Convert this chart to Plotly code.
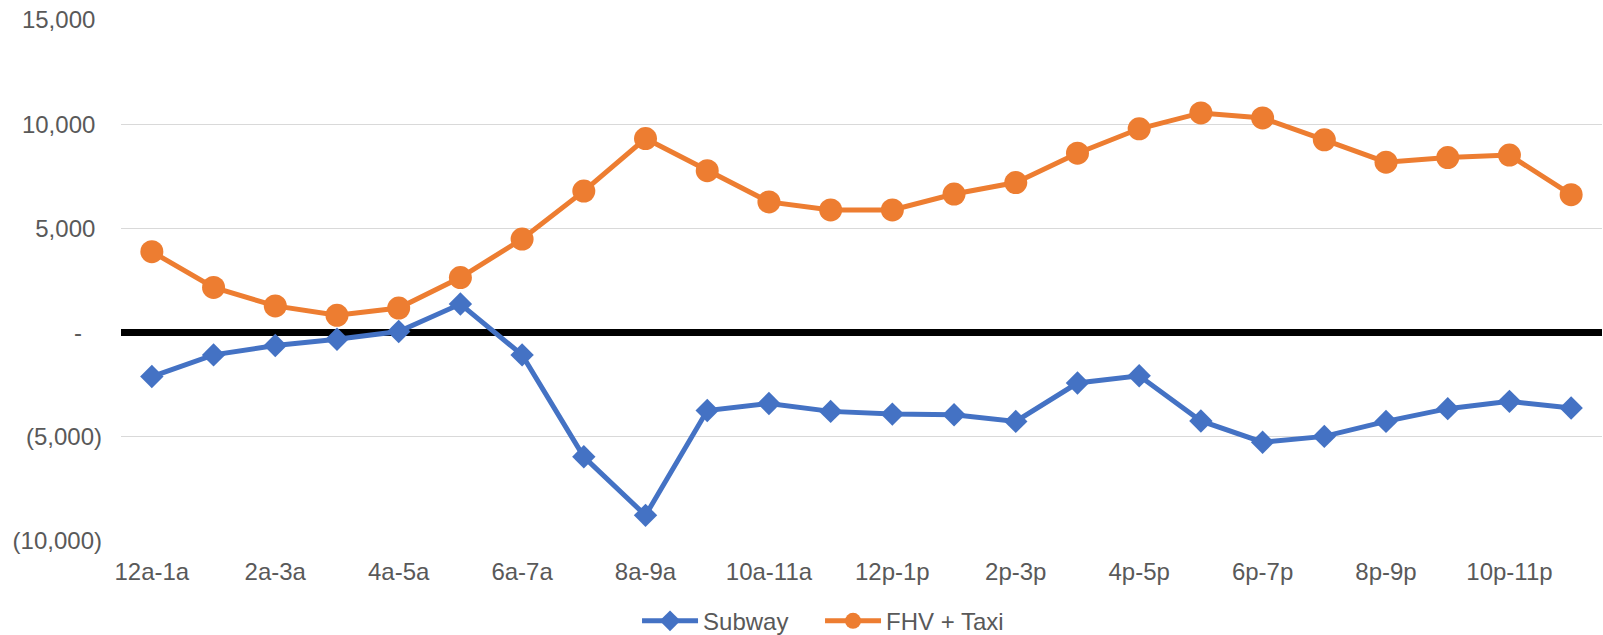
import plotly.graph_objects as go

hours = ["12a-1a", "1a-2a", "2a-3a", "3a-4a", "4a-5a", "5a-6a", "6a-7a", "7a-8a",
         "8a-9a", "9a-10a", "10a-11a", "11a-12p", "12p-1p", "1p-2p", "2p-3p", "3p-4p",
         "4p-5p", "5p-6p", "6p-7p", "7p-8p", "8p-9p", "9p-10p", "10p-11p", "11p-12a"]

subway = [-2110, -1070, -620, -320, 50, 1370, -1070, -5960,
          -8770, -3740, -3400, -3780, -3910, -3940, -4260, -2420,
          -2070, -4240, -5260, -4980, -4260, -3650, -3300, -3620]

fhv_taxi = [3880, 2170, 1280, 830, 1180, 2640, 4490, 6790,
            9310, 7770, 6270, 5885, 5885, 6650, 7200, 8610,
            9780, 10540, 10300, 9250, 8180, 8400, 8520, 6620]

x_tickvals = hours[::2]
y_tickvals = [-10000, -5000, 0, 5000, 10000, 15000]
NB = "\u00a0"
y_ticktext = ["(10,000)", "(5,000)", "-" + NB * 3, "5,000" + NB,
              "10,000" + NB, "15,000" + NB]

BLUE = "#4472C4"
ORANGE = "#ED7D31"
GREY = "#595959"
FONT = "Liberation Sans, Arial, sans-serif"
FS = 24

fig = go.Figure()
fig.add_trace(go.Scatter(
    x=hours, y=subway, name="Subway", mode="lines+markers",
    line=dict(color=BLUE, width=5),
    marker=dict(symbol="diamond", size=18, color=BLUE),
))
fig.add_trace(go.Scatter(
    x=hours, y=fhv_taxi, name="FHV + Taxi", mode="lines+markers",
    line=dict(color=ORANGE, width=5),
    marker=dict(symbol="circle", size=23, color=ORANGE),
))

fig.update_layout(
    width=1603, height=635,
    margin=dict(l=121, r=1, t=20, b=93.5, pad=0, autoexpand=False),
    paper_bgcolor="white", plot_bgcolor="white",
    font=dict(family=FONT, size=FS, color=GREY),
    showlegend=True,
    legend=dict(orientation="h", xanchor="center", x=0.472, yanchor="middle", y=-0.154,
                font=dict(family=FONT, size=FS, color=GREY), itemwidth=56,
                entrywidth=112, bgcolor="rgba(0,0,0,0)"),
    xaxis=dict(
        type="category", categoryorder="array", categoryarray=hours,
        range=[-0.5, 23.5], showgrid=False, zeroline=False, showline=False,
        tickmode="array", tickvals=x_tickvals, ticktext=x_tickvals,
        ticks="", ticklabelstandoff=14,
        tickfont=dict(family=FONT, size=FS, color=GREY),
    ),
    yaxis=dict(
        range=[-10000, 15000], tickmode="array", tickvals=y_tickvals, ticktext=y_ticktext,
        showgrid=True, gridcolor="#D9D9D9", gridwidth=1.3,
        zeroline=True, zerolinecolor="black", zerolinewidth=7,
        showline=False, ticks="", ticklabelstandoff=18,
        tickfont=dict(family=FONT, size=FS, color=GREY),
    ),
)

fig.write_html("out.html")
